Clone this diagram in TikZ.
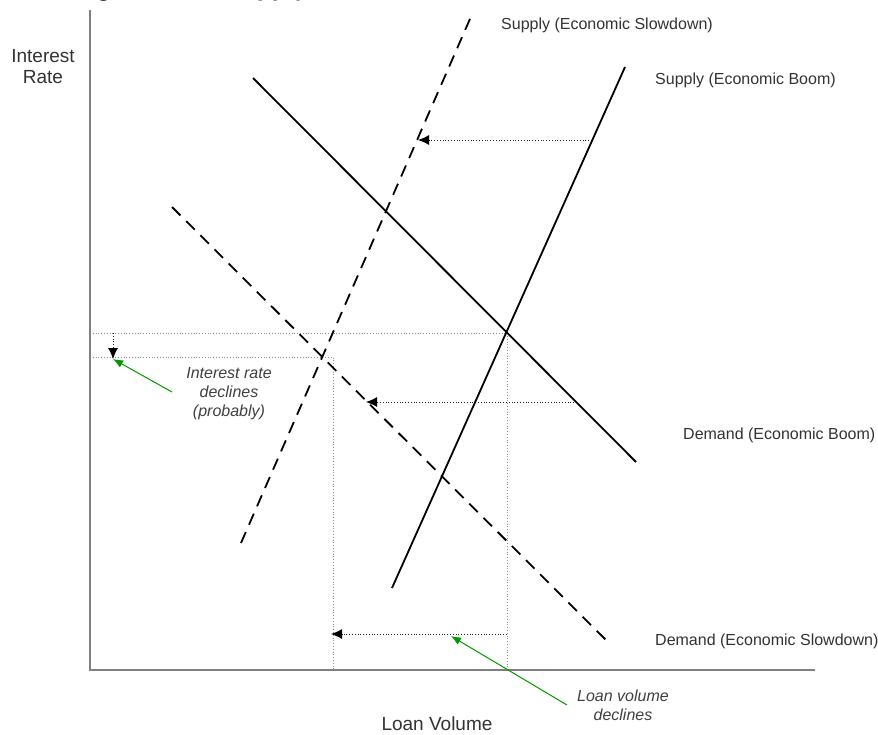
\documentclass[tikz,border=0pt]{standalone}
\usepackage{fontspec}
\setmainfont{Liberation Sans}
\newfontfamily\titlefont{Carlito}
\usetikzlibrary{arrows.meta}
\begin{document}
\begin{tikzpicture}[x=1pt,y=-1pt,
  curve/.style={line width=1.8pt,black},
  dcurve/.style={curve,dash pattern=on 12pt off 8pt},
  guide/.style={line width=0.9pt,black!45,dash pattern=on 1pt off 1.8pt},
  shiftarrow/.style={line width=0.9pt,black!85,dash pattern=on 1pt off 1.8pt,-{Latex[length=11pt,width=10pt,color=black]}},
  axisline/.style={line width=2.8pt,black!50},
  note/.style={draw=green!60!black,line width=1pt,-{Latex[length=10pt,width=8pt]}},
  lbl/.style={font=\fontsize{16}{19}\selectfont,text=black!80,inner sep=0pt},
  biglbl/.style={font=\fontsize{19}{21}\selectfont,text=black!80,inner sep=0pt,align=center},
  itlbl/.style={font=\fontsize{16}{19}\selectfont\itshape,text=black!75,inner sep=0pt,align=center},
]
\useasboundingbox (0,0) rectangle (878,734);
\fill[white] (0,0) rectangle (878,734);

% title (cut off at top)
\begin{scope}
\clip (0,0) rectangle (878,734);
\node[anchor=base west,inner sep=0pt,font=\titlefont\bfseries\fontsize{28}{30}\selectfont] (title) at (19,-4) {Lending and Loan Supply};
\end{scope}

% coordinates
\coordinate (O) at (90,670);
\coordinate (Ytop) at (90,10);
\coordinate (Xend) at (815,670);
\coordinate (E1) at (507,333);
\coordinate (E2) at (333,357);
\coordinate (SSa) at (241,543); \coordinate (SSb) at (473,12);
\coordinate (SBa) at (392,588); \coordinate (SBb) at (625,67);
\coordinate (DBa) at (253,78);  \coordinate (DBb) at (636,462);
\coordinate (DSa) at (172,207); \coordinate (DSb) at (609,643);
\coordinate (IRa) at (113,333); \coordinate (IRb) at (113,359);
\coordinate (A1a) at (592,140); \coordinate (A1b) at (418,140);
\coordinate (A2a) at (577,402); \coordinate (A2b) at (366,402);
\coordinate (A3a) at (507,634); \coordinate (A3b) at (331,634);
\coordinate (G1a) at (172,392); \coordinate (G1b) at (113,359);
\coordinate (G2a) at (567,705); \coordinate (G2b) at (451,636);

% guides
\draw[guide] (O |- E1) -- (E1) -- (E1 |- O);
\draw[guide] (O |- E2) -- (E2) -- (E2 |- O);

% shift arrows
\draw[shiftarrow] (IRa) -- (IRb);
\draw[shiftarrow] (A1a) -- (A1b);
\draw[shiftarrow] (A2a) -- (A2b);
\draw[shiftarrow] (A3a) -- (A3b);

% axes
\draw[axisline] (Ytop) -- (O) -- (Xend);

% curves
\draw[dcurve] (SSa) -- (SSb);
\draw[curve] (SBa) -- (SBb);
\draw[curve] (DBa) -- (DBb);
\draw[dcurve] (DSa) -- (DSb);

% green notes
\draw[note] (G1a) -- (G1b);
\draw[note] (G2a) -- (G2b);

% labels
\node[biglbl,anchor=base] (ylab) at (43,83) {Interest\\[0pt]Rate};
\node[biglbl,anchor=base] (xlab) at (437,730) {Loan Volume};
\node[lbl,anchor=base west] (lss) at (501,29) {Supply (Economic Slowdown)};
\node[lbl,anchor=base west] (lsb) at (655,84) {Supply (Economic Boom)};
\node[lbl,anchor=base west] (ldb) at (683,439) {Demand (Economic Boom)};
\node[lbl,anchor=base west] (lds) at (655,645) {Demand (Economic Slowdown)};
\node[itlbl,anchor=base] (nir) at (229,416) {Interest rate\\declines\\(probably)};
\node[itlbl,anchor=base] (nlv) at (623,720) {Loan volume\\declines};
\end{tikzpicture}
\end{document}
